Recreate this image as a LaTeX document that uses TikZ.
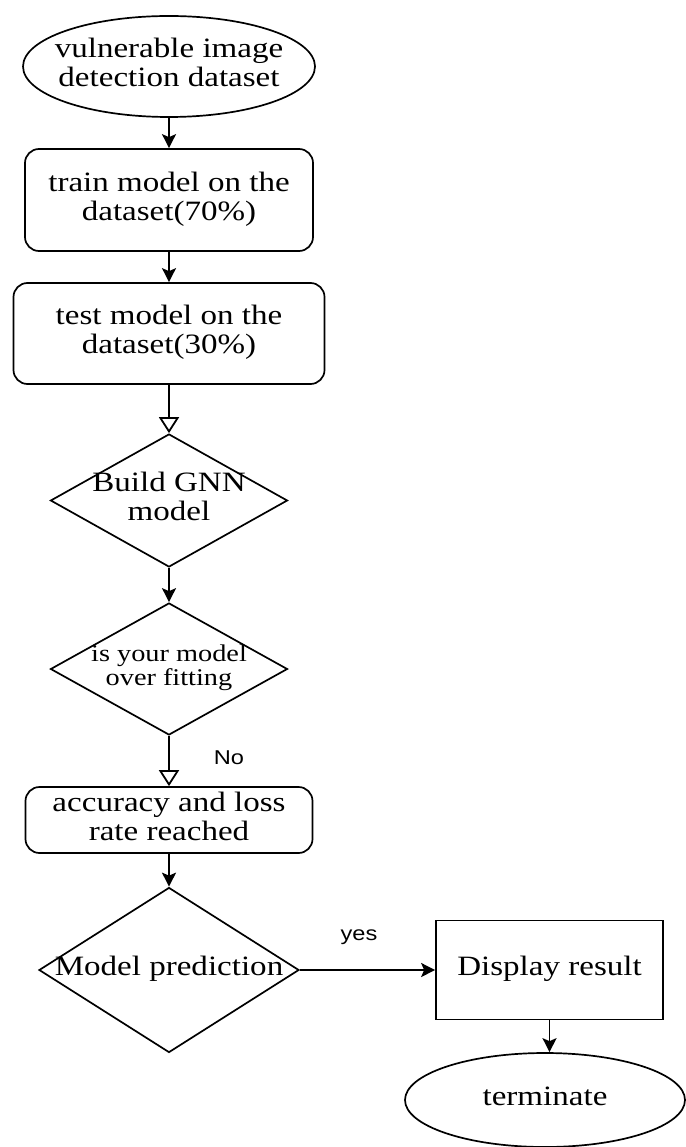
\documentclass[tikz,border=0pt]{standalone}
\usepackage{fontspec}
\usepackage{graphicx}
\setmainfont{Liberation Serif}
\newfontfamily\lsans{Liberation Sans}
\usetikzlibrary{shapes.geometric,arrows.meta}
\newcommand{\wtxt}[1]{\scalebox{1.18}[1]{\begin{tabular}{@{}c@{}}#1\end{tabular}}}
\tikzset{
  shp/.style={draw, line width=1.7pt, inner sep=0pt, fill=white},
  rbox/.style={shp, rectangle, rounded corners=14pt},
  sbox/.style={shp, rectangle},
  ell/.style={shp, ellipse},
  dia/.style={shp, diamond},
  txt/.style={inner sep=0pt, font=\fontsize{28}{29}\selectfont},
  stxt/.style={inner sep=0pt, font=\fontsize{24}{23}\selectfont},
  lab/.style={inner sep=0pt, font=\lsans\fontsize{20}{20}\selectfont},
  fa/.style={line width=1.8pt, -{Stealth[length=14pt, width=14pt, inset=3pt]}},
  oa/.style={line width=1.8pt, -{Triangle[open, length=16pt, width=20pt]}}
}
\begin{document}
\begin{tikzpicture}[x=1pt, y=-1pt]
\useasboundingbox (0,0) rectangle (685,1147);
\node[ell, minimum width=292pt, minimum height=101pt] (start) at (169,66.5) {};
\node[txt] (startT) at (start) {\wtxt{vulnerable image\\detection dataset}};
\node[rbox, minimum width=288pt, minimum height=102pt] (train) at (169,200) {};
\node[txt] (trainT) at (train) {\wtxt{train model on the\\dataset(70\%)}};
\node[rbox, minimum width=311pt, minimum height=101pt] (test) at (169,333.5) {};
\node[txt] (testT) at (test) {\wtxt{test model on the\\dataset(30\%)}};
\node[dia, minimum width=237pt, minimum height=133pt] (build) at (169,500.5) {};
\node[txt] (buildT) at (build) {\wtxt{Build GNN\\model}};
\node[dia, minimum width=237pt, minimum height=132pt] (fit) at (169,669) {};
\node[stxt] (fitT) at (fit) {\wtxt{is your model\\over fitting}};
\node[rbox, minimum width=287pt, minimum height=66pt] (acc) at (169,820) {};
\node[txt] (accT) at (acc) {\wtxt{accuracy and loss\\rate reached}};
\node[dia, minimum width=260pt, minimum height=165pt] (pred) at (169,970) {};
\node[txt] (predT) at (pred) {\wtxt{Model prediction}};
\node[sbox, minimum width=227pt, minimum height=99pt] (disp) at (549.5,970) {};
\node[txt] (dispT) at (disp) {\wtxt{Display result}};
\node[ell, minimum width=280pt, minimum height=94pt] (term) at (545,1100) {};
\node[txt] (termT) at (term) {\wtxt{terminate}};
\node[lab] (no) at (229,758) {\scalebox{1.18}[1]{No}};
\node[lab] (yes) at (359,937) {\scalebox{1.18}[1]{yes}};
\draw[fa] (start.south) -- (train.north);
\draw[fa] (train.south) -- (test.north);
\draw[oa] (test.south) -- (build.north);
\draw[fa] (build.south) -- (fit.north);
\draw[oa] (fit.south) -- (acc.north);
\draw[fa] (acc.south) -- (pred.north);
\draw[fa] (pred.east) -- (disp.west);
\draw[fa] (disp.south) -- (disp.south |- term.north);
\end{tikzpicture}
\end{document}
